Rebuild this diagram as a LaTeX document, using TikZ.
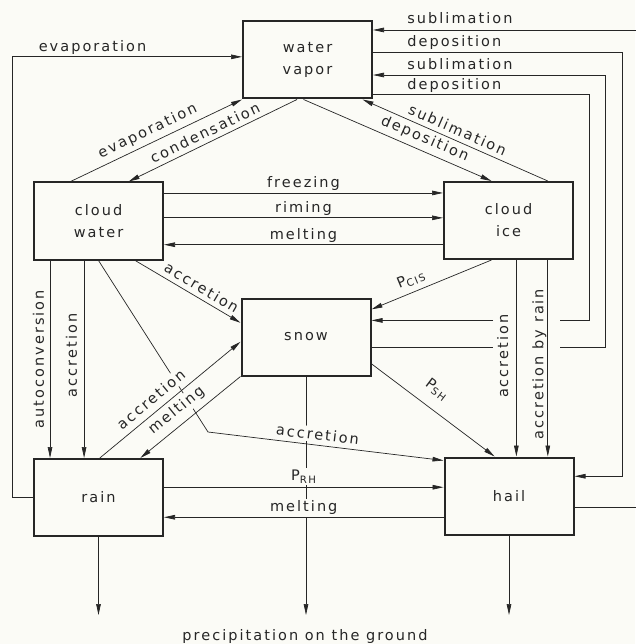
\documentclass[tikz,border=0pt]{standalone}
\usepackage{fontspec}
\usepackage{tikz}
\usetikzlibrary{arrows.meta,calc}
\newfontfamily\lettering{DejaVu Sans}[LetterSpace=14]
\definecolor{paper}{RGB}{251,251,246}
\definecolor{ink}{RGB}{38,38,38}

\begin{document}
\begin{tikzpicture}[x=1pt,y=-1pt,
  every node/.style={font=\lettering\fontsize{14.5}{22}\selectfont,text=ink},
  box/.style={draw=ink,line width=2pt,minimum width=129pt,minimum height=77pt,inner sep=0pt,align=center},
  flow/.style={draw=ink,line width=0.7pt,-{Triangle[length=11pt,width=4.6pt]}},
  lbl/.style={inner sep=2pt},
  cover/.style={fill=paper}]
\fill[paper] (0,0) rectangle (635,644);
\useasboundingbox (0,0) rectangle (635,644);

% compartments
\node[box] (vapor) at (307.5,60) {water\\vapor};
\node[box] (cloudwater) at (98.5,221) {cloud\\water};
\node[box] (cloudice) at (508.5,220.5) {cloud\\ice};
\node[box] (snow) at (306,337) {snow};
\node[box] (rain) at (98.5,497.5) {rain};
\node[box] (hail) at (509,496) {hail};
\node (precip) at (305,636) {precipitation on the ground};

% rails and bends
\coordinate (leftrail) at (12,0);
\coordinate (ground) at (0,615);
\coordinate (gapl) at (493,0);
\coordinate (gapr) at (560,0);
\coordinate (railA) at (589,0);
\coordinate (railB) at (605,0);
\coordinate (railC) at (622,0);
\coordinate (railD) at (645,0);
\coordinate (kink) at (208,432);

% points on the box sides
\path ($(vapor.north west)!.46!(vapor.south west)$) coordinate (ve)
      ($(vapor.north east)!.12!(vapor.south east)$) coordinate (vs)
      ($(vapor.north east)!.40!(vapor.south east)$) coordinate (vt)
      ($(vapor.north east)!.69!(vapor.south east)$) coordinate (vu)
      ($(vapor.north east)!.94!(vapor.south east)$) coordinate (vd);
\path ($(cloudwater.north east)!.145!(cloudwater.south east)$) coordinate (fz)
      ($(cloudwater.north east)!.46!(cloudwater.south east)$) coordinate (rm)
      ($(cloudwater.north east)!.80!(cloudwater.south east)$) coordinate (mt)
      ($(cloudwater.south west)!.13!(cloudwater.south east)$) coordinate (ac)
      ($(cloudwater.south west)!.39!(cloudwater.south east)$) coordinate (ar);
\path ($(cloudice.south west)!.56!(cloudice.south east)$) coordinate (ia)
      ($(cloudice.south west)!.80!(cloudice.south east)$) coordinate (ir);
\path ($(snow.north east)!.63!(snow.south east)$) coordinate (su)
      ($(snow.north east)!.29!(snow.south east)$) coordinate (sd);
\path ($(rain.north east)!.37!(rain.south east)$) coordinate (rh)
      ($(rain.north east)!.75!(rain.south east)$) coordinate (hr);
\path ($(hail.north east)!.25!(hail.south east)$) coordinate (ht)
      ($(hail.north east)!.64!(hail.south east)$) coordinate (hs);

% to the ground
\draw[flow] (snow.south) -- (snow.south |- ground);
\draw[flow] (rain.south) -- (rain.south |- ground);
\draw[flow] (hail.south) -- (hail.south |- ground);

% water vapor <-> cloud water, cloud ice
\draw[flow] ($(cloudwater.north west)!.287!(cloudwater.north east)$) -- node[lbl,above,sloped,pos=.48,outer sep=3pt]{evaporation} (vapor.south west);
\draw[flow] ($(vapor.south west)!.42!(vapor.south east)$) -- node[lbl,above,sloped,pos=.52,outer sep=3pt]{condensation} ($(cloudwater.north west)!.73!(cloudwater.north east)$);
\draw[flow] ($(cloudice.north west)!.80!(cloudice.north east)$) -- node[lbl,above,sloped,pos=.51,outer sep=3pt]{sublimation} ($(vapor.south west)!.92!(vapor.south east)$);
\draw[flow] ($(vapor.south west)!.47!(vapor.south east)$) -- node[lbl,above,sloped,pos=.62,outer sep=3pt]{deposition} ($(cloudice.north west)!.37!(cloudice.north east)$);
\draw[flow] (rain.west) -- (rain.west -| leftrail) -- (leftrail |- ve) -- node[lbl,above,pos=.35]{evaporation} (ve);

% right side loops
\draw[flow] (hs) -- (hs -| railD) -- (railD |- vs) -- node[lbl,anchor=south west,pos=1,xshift=32pt,yshift=4pt]{sublimation} (vs);
\draw[flow] (vt) -- node[lbl,anchor=south west,pos=0,xshift=32pt]{deposition} (vt -| railC) -- (railC |- ht) -- (ht);
\draw[flow] (su) -- (su -| gapl) (su -| gapr) -- (su -| railB) -- (railB |- vu) -- node[lbl,anchor=south west,pos=1,xshift=32pt,yshift=3pt]{sublimation} (vu);
\draw[flow] (vd) -- node[lbl,anchor=south west,pos=0,xshift=32pt]{deposition} (vd -| railA) -- (railA |- sd) -- (sd -| gapr) (sd -| gapl) -- (sd);

% cloud water -> cloud ice
\draw[flow] (fz) -- node[lbl,above]{freezing} (fz -| cloudice.west);
\draw[flow] (rm) -- node[lbl,above]{riming} (rm -| cloudice.west);
\draw[flow] (mt -| cloudice.west) -- node[lbl,above]{melting} (mt);

% cloud water -> rain, snow, hail
\draw[flow] (ac) -- node[lbl,rotate=90,anchor=south,outer sep=4pt]{autoconversion} (ac |- rain.north);
\draw[flow] (ar) -- node[lbl,rotate=90,anchor=south,pos=.48,outer sep=5pt]{accretion} (ar |- rain.north);
\draw[flow] ($(cloudwater.south west)!.78!(cloudwater.south east)$) -- node[lbl,above,sloped,pos=.58,outer sep=3pt]{accretion} ($(snow.north west)!.32!(snow.south west)$);
\draw[flow] (cloudwater.south) -- (kink) -- node[lbl,cover,above,sloped,pos=.46,outer sep=3pt]{accretion} ($(hail.north west)!.05!(hail.south west)$);

% snow <-> rain
\draw[flow] ($(rain.north west)!.51!(rain.north east)$) -- node[lbl,cover,above,sloped,pos=.42,outer sep=5pt]{accretion} ($(snow.north west)!.56!(snow.south west)$);
\draw[flow] (snow.south west) -- node[lbl,cover,above,sloped,pos=.55,outer sep=5pt]{melting} ($(rain.north west)!.82!(rain.north east)$);

% cloud ice -> snow, hail
\draw[flow] ($(cloudice.south west)!.37!(cloudice.south east)$) -- node[lbl,above,sloped,pos=.63,outer sep=4pt]{P\textsubscript{CIS}} ($(snow.north east)!.15!(snow.south east)$);
\draw[flow] (ia) -- node[lbl,rotate=90,anchor=south,pos=.49,outer sep=6pt]{accretion} (ia |- hail.north);
\draw[flow] (ir) -- node[lbl,rotate=90,anchor=south,pos=.53,inner sep=1pt]{accretion by rain} (ir |- hail.north);

% snow, rain -> hail
\draw[flow] ($(snow.north east)!.84!(snow.south east)$) -- node[lbl,above,sloped,pos=.44,outer sep=10pt]{P\textsubscript{SH}} ($(hail.north west)!.39!(hail.north east)$);
\draw[flow] (rh) -- node[lbl,cover,above,outer sep=2pt]{P\textsubscript{RH}} (rh -| hail.west);
\draw[flow] (hr -| hail.west) -- node[lbl,cover,above]{melting} (hr);
\end{tikzpicture}
\end{document}
